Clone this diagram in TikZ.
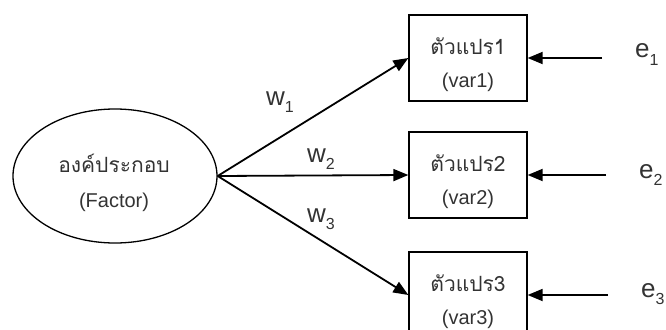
\documentclass[tikz,border=0pt]{standalone}
\usepackage{fontspec}
\setmainfont{Liberation Sans}
\newfontfamily\thaifont[Script=Thai]{Loma}
\usetikzlibrary{arrows.meta,shapes.geometric}
\newcommand{\lowidx}[1]{\raisebox{-7pt}{\fontsize{16}{16}\selectfont #1}}
\tikzset{
  varbox/.style={draw,line width=1.3pt,minimum width=118pt,minimum height=86pt,inner sep=0pt},
  arr/.style={line width=1.8pt,-{Triangle[length=15pt,width=12pt]}},
  txt/.style={font=\fontsize{20}{20}\selectfont,text=black!80,inner sep=0pt},
  lbl/.style={font=\fontsize{26}{26}\selectfont,text=black!80,inner sep=0pt,anchor=base west},
}

\begin{document}
\begin{tikzpicture}[x=1pt,y=-1pt]
\useasboundingbox (0,0) rectangle (666,329);

\node[ellipse,draw,line width=1.3pt,minimum width=204pt,minimum height=134pt,inner sep=0pt] (fac) at (115,176) {};
\node[varbox] (v1) at (468,58) {};
\node[varbox] (v2) at (468,175) {};
\node[varbox] (v3) at (468,295) {};

\node[txt] (fthai) at (114,163) {\thaifont\fontsize{21}{21}\selectfont องค์ประกอบ};
\node[txt] (fname) at (114,202) {(Factor)};
\node[txt] (t1) at (468,46) {\thaifont\fontsize{21}{21}\selectfont ตัวแปร1};
\node[txt] (n1) at (468,82) {(var1)};
\node[txt] (t2) at (468,163) {\thaifont\fontsize{21}{21}\selectfont ตัวแปร2};
\node[txt] (n2) at (468,199) {(var2)};
\node[txt] (t3) at (468,283) {\thaifont\fontsize{21}{21}\selectfont ตัวแปร3};
\node[txt] (n3) at (468,319) {(var3)};

\node[lbl] (w1) at (266,105) {w\lowidx{1}};
\node[lbl] (w2) at (307,162) {w\lowidx{2}};
\node[lbl] (w3) at (307,222) {w\lowidx{3}};
\node[lbl] (e1) at (635,58) {e\lowidx{1}};
\node[lbl] (e2) at (639,178) {e\lowidx{2}};
\node[lbl] (e3) at (641,297) {e\lowidx{3}};

\draw[arr] (fac.east) -- (v1.west);
\draw[arr] (fac.east) -- (v2.west);
\draw[arr] (fac.east) -- (v3.west);
\draw[arr,shorten <=33pt] (e1.west |- v1) -- (v1.east);
\draw[arr,shorten <=33pt] (e2.west |- v2) -- (v2.east);
\draw[arr,shorten <=33pt] (e3.west |- v3) -- (v3.east);
\end{tikzpicture}
\end{document}
